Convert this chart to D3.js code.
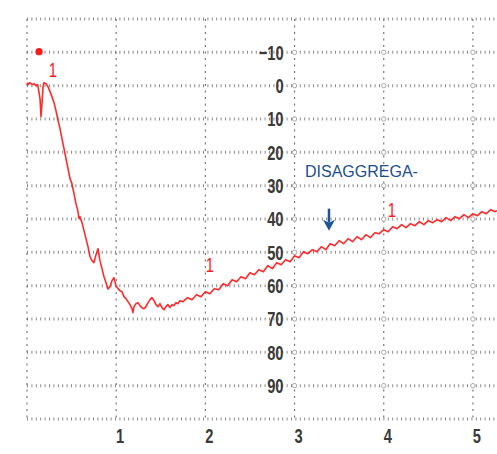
<!DOCTYPE html>
<html>
<head>
<meta charset="utf-8">
<script src="https://cdn.jsdelivr.net/npm/d3@7"></script>
<style>
  body { margin: 0; background: #fff; }
</style>
</head>
<body>
<div class="trace"></div>
<script>
// aggregation trace: time in minutes, aggregation in %
var traceTime = [
  0, 0.01, 0.03, 0.06, 0.08, 0.10, 0.12, 0.146, 0.157, 0.168, 0.18, 0.19, 0.213, 0.235, 0.258, 0.28,
  0.303, 0.325, 0.348, 0.37, 0.392, 0.415, 0.437, 0.46, 0.482, 0.504, 0.527, 0.549, 0.572, 0.583,
  0.594, 0.617, 0.639, 0.661, 0.684, 0.706, 0.729, 0.751, 0.774, 0.796, 0.818, 0.841, 0.863, 0.886,
  0.908, 0.93, 0.953, 0.975, 0.998, 1.02, 1.043, 1.065, 1.087, 1.11, 1.132, 1.155, 1.177, 1.188,
  1.2, 1.222, 1.244, 1.267, 1.289, 1.312, 1.334, 1.357, 1.379, 1.401, 1.424, 1.446, 1.469, 1.491,
  1.513, 1.536, 1.558, 1.581, 1.603, 1.626, 1.648, 1.67, 1.693, 1.715,
  1.75, 1.80, 1.85, 1.90, 1.95, 2.00, 2.05, 2.10, 2.15, 2.20, 2.25, 2.30, 2.35, 2.40, 2.45, 2.50,
  2.55, 2.60, 2.65, 2.70, 2.75, 2.80, 2.85, 2.90, 2.95, 3.00, 3.05, 3.10, 3.15, 3.20, 3.25, 3.30,
  3.35, 3.40, 3.45, 3.50, 3.55, 3.60, 3.65, 3.70, 3.75, 3.80, 3.85, 3.90, 3.95, 4.00, 4.05, 4.10,
  4.15, 4.20, 4.25, 4.30, 4.35, 4.40, 4.45, 4.50, 4.55, 4.60, 4.65, 4.70, 4.75, 4.80, 4.85, 4.90,
  4.95, 5.00, 5.05, 5.10, 5.15, 5.20, 5.25, 5.27
];
var traceValue = [
  -0.9, -0.3, -0.9, -0.3, -0.6, 0, -0.3, 3.9, 9.3, 5.4, 0.3, -0.9, -0.6, 0.3, 1.8, 3.3,
  5.1, 7.5, 10.5, 12.9, 15.9, 18.9, 21.9, 24.9, 27.9, 29.4, 32.4, 35.4, 37.8, 39.9,
  39.3, 41.1, 43.5, 45.9, 48.3, 51.3, 52.5, 53.1, 50.7, 48.9, 52.5, 54.9, 57.3, 59.1,
  61.0, 60.3, 58.5, 57.6, 60.0, 60.9, 61.5, 61.8, 63.3, 63.9, 64.8, 65.7, 66.9, 68.1,
  66.3, 65.4, 65.1, 66.0, 66.6, 66.9, 66.3, 65.1, 64.2, 63.6, 64.5, 65.7, 66.3, 65.4,
  66.6, 67.2, 66.3, 65.7, 66.6, 65.7, 66.0, 65.1, 65.4, 64.5,
  64.8, 63.6, 64.2, 62.7, 63.3, 61.8, 62.4, 60.9, 61.2, 59.4, 60.0, 58.2, 58.8, 57.3, 57.9, 56.1,
  56.7, 55.2, 55.8, 54.0, 54.9, 53.1, 53.7, 52.2, 52.8, 51.0, 51.6, 49.8, 50.4, 49.2, 49.8, 48.3,
  49.2, 47.4, 48.0, 46.5, 47.4, 45.9, 46.8, 45.3, 46.2, 44.7, 45.6, 44.1, 44.4, 43.2, 43.8, 42.3,
  42.9, 41.7, 42.6, 41.4, 42.0, 40.8, 41.7, 40.5, 41.1, 40.2, 40.8, 39.6, 40.5, 39.3, 39.9, 38.7,
  39.6, 38.4, 39.0, 37.8, 38.4, 37.2, 37.8, 37.5
];

var gridRows = [-20, -10, 0, 10, 20, 30, 40, 50, 60, 70, 80, 90, 100];
var yTickLabels = [-10, 0, 10, 20, 30, 40, 50, 60, 70, 80, 90];
var gridCols = [0, 1, 2, 3, 4, 5];
var xTickLabels = [1, 2, 3, 4, 5];

// "1" marks, the start dot and the disaggregation note
var markTime = [0.29, 2.05, 4.09];
var markValue = [-2.7, 55.8, 39.3];
var dotPoint = [0.135, -10.2];
var noteText = "DISAGGREGA-";
var notePoint = [3.117, 27.3];
var arrowTime = 3.386;
var arrowFrom = 36.9;
var arrowTo = 43.5;

function init() {
  var w = 497;
  var h = 454;

  var x = d3.scaleLinear().domain([0, 5.27]).range([27, 497]);
  var y = d3.scaleLinear().domain([-20, 100]).range([19, 419]);

  var svg = d3.select(".trace")
    .append("svg")
    .attr("width", w)
    .attr("height", h);

  // dotted grid
  svg.selectAll(".hgrid")
    .data(gridRows)
    .enter()
    .append("line")
    .attr("class", "hgrid")
    .attr("x1", x(0))
    .attr("x2", w)
    .attr("y1", function(d) { return y(d); })
    .attr("y2", function(d) { return y(d); })
    .style("stroke", "#8a8a8a")
    .style("stroke-width", 3)
    .style("stroke-dasharray", "1,3.4");

  svg.selectAll(".vgrid")
    .data(gridCols)
    .enter()
    .append("line")
    .attr("class", "vgrid")
    .attr("x1", function(d) { return x(d); })
    .attr("x2", function(d) { return x(d); })
    .attr("y1", y(-20))
    .attr("y2", y(100))
    .style("stroke", "#777")
    .style("stroke-width", 1.2)
    .style("stroke-dasharray", "2,4.5");

  // little rings where the right columns cross the rows
  var rings = [];
  [3, 4, 5].forEach(function(c) {
    yTickLabels.forEach(function(r) { rings.push([c, r]); });
  });
  svg.selectAll(".ring")
    .data(rings)
    .enter()
    .append("circle")
    .attr("class", "ring")
    .attr("cx", function(d) { return x(d[0]); })
    .attr("cy", function(d) { return y(d[1]); })
    .attr("r", 2.2)
    .style("fill", "#fff")
    .style("stroke", "#aaa")
    .style("stroke-width", 1);

  // y labels sit left of the 3 min column
  var yAxis = svg.append("g")
    .attr("transform", "translate(" + x(3) + ",0)")
    .call(d3.axisLeft(y).tickValues(yTickLabels).tickSize(0).tickPadding(0));
  yAxis.select(".domain").remove();
  yAxis.selectAll("text")
    .attr("x", null)
    .attr("transform", "translate(-11,0) scale(0.7,1)")
    .style("font-family", "Liberation Sans, Arial, sans-serif")
    .style("font-weight", "bold")
    .style("font-size", "21px")
    .style("fill", "#3a3a3a");

  var xAxis = svg.append("g")
    .attr("transform", "translate(0," + y(100) + ")")
    .call(d3.axisBottom(x).tickValues(xTickLabels).tickFormat(d3.format("d")).tickSize(0).tickPadding(9));
  xAxis.select(".domain").remove();
  xAxis.selectAll("text")
    .attr("transform", "translate(3.5,0) scale(0.7,1)")
    .style("font-family", "Liberation Sans, Arial, sans-serif")
    .style("font-weight", "bold")
    .style("font-size", "21px")
    .style("fill", "#3a3a3a");

  // trace
  var pts = traceTime.map(function(t, i) { return [t, traceValue[i]]; });
  var line = d3.line()
    .x(function(d) { return x(d[0]); })
    .y(function(d) { return y(d[1]); });

  svg.append("path")
    .datum(pts)
    .attr("d", line)
    .style("fill", "none")
    .style("stroke", "#ff2a2a")
    .style("stroke-width", 1.6)
    .style("stroke-linejoin", "round");

  svg.append("circle")
    .attr("cx", x(dotPoint[0]))
    .attr("cy", y(dotPoint[1]))
    .attr("r", 3.6)
    .style("fill", "#ff1a1a");

  svg.selectAll(".mark")
    .data(markTime)
    .enter()
    .append("text")
    .attr("class", "mark")
    .attr("transform", function(d, i) {
      return "translate(" + x(d) + "," + y(markValue[i]) + ") scale(0.7,1)";
    })
    .attr("text-anchor", "middle")
    .style("font-family", "Liberation Sans, Arial, sans-serif")
    .style("font-size", "21px")
    .style("fill", "#ff1a1a")
    .text("1");

  // disaggregation note and arrow
  svg.append("text")
    .attr("x", x(notePoint[0]))
    .attr("y", y(notePoint[1]))
    .style("font-family", "Liberation Sans, Arial, sans-serif")
    .style("font-size", "16px")
    .style("fill", "#1d4f8f")
    .text(noteText);

  var ax = x(arrowTime);
  var a0 = y(arrowFrom);
  var a1 = y(arrowTo);
  svg.append("line")
    .attr("x1", ax)
    .attr("x2", ax)
    .attr("y1", a0)
    .attr("y2", a1 - 8)
    .style("stroke", "#1d5499")
    .style("stroke-width", 2.5);
  svg.append("path")
    .attr("d", "M" + (ax - 6) + "," + (a1 - 11) + "L" + ax + "," + (a1 - 8) + "L" + (ax + 6) + "," + (a1 - 11) + "L" + ax + "," + a1 + "Z")
    .style("fill", "#1d5499");
}

window.onload = init;
</script>
</body>
</html>
